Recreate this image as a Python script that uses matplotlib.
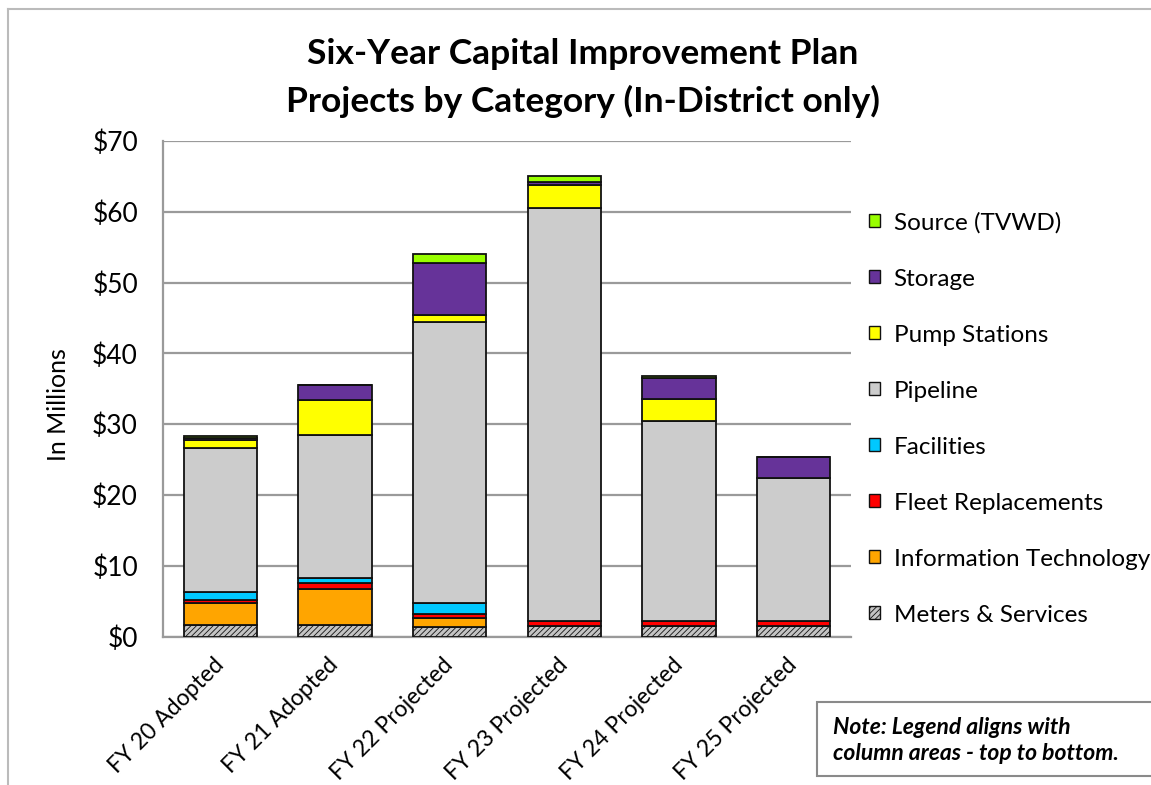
import matplotlib
matplotlib.use("Agg")
import matplotlib.pyplot as plt
from matplotlib.patches import Rectangle, Patch
from matplotlib.lines import Line2D

plt.rcParams['font.family'] = ['Lato', 'DejaVu Sans']
plt.rcParams['hatch.color'] = '#555555'
plt.rcParams['hatch.linewidth'] = 0.6

# ---- data (millions of dollars) ----
years = ["FY 20 Adopted", "FY 21 Adopted", "FY 22 Projected",
         "FY 23 Projected", "FY 24 Projected", "FY 25 Projected"]
meters = [1.6, 1.6, 1.4, 1.55, 1.55, 1.55]
info_tech = [3.1, 5.1, 1.2, 0.0, 0.0, 0.0]
fleet = [0.45, 0.8, 0.6, 0.7, 0.7, 0.7]
facilities = [1.1, 0.8, 1.55, 0.0, 0.0, 0.0]
pipeline = [20.4, 20.1, 39.7, 58.3, 28.2, 20.1]
pump_stations = [1.05, 5.0, 1.0, 3.25, 3.05, 0.0]
storage = [0.3, 2.1, 7.35, 0.45, 2.95, 3.05]
source = [0.3, 0.0, 1.25, 0.75, 0.35, 0.0]

categories = ["Meters & Services", "Information Technology", "Fleet Replacements",
              "Facilities", "Pipeline", "Pump Stations", "Storage", "Source (TVWD)"]
series = [meters, info_tech, fleet, facilities, pipeline, pump_stations, storage, source]
colors = ["#c4c4c4", "#ffa500", "#ff0000", "#00c8ff", "#cccccc",
          "#ffff00", "#663399", "#99ff00"]
hatches = ["//////", None, None, None, None, None, None, None]

W, H = 1151, 785
fig = plt.figure(figsize=(W / 100, H / 100), dpi=100)

# plot area in pixel terms
x0, x1 = 163, 851
y_top, y_bot = 141, 636.5
ax = fig.add_axes([x0 / W, (H - y_bot) / H, (x1 - x0) / W, (y_bot - y_top) / H])

pos = list(range(len(years)))
bottom = [0.0] * len(years)
handles = []
for vals, col, hat, name in zip(series, colors, hatches, categories):
    ax.bar(pos, vals, width=0.64, bottom=bottom, color=col, edgecolor="#111111",
           linewidth=1.3, hatch=hat, zorder=3)
    bottom = [b + v for b, v in zip(bottom, vals)]
    handles.append(Patch(facecolor=col, edgecolor="#111111", linewidth=1.0,
                         hatch=hat, label=name))

ax.set_xlim(-0.5, 5.5)
ax.set_ylim(0, 70)
ax.set_yticks(range(0, 71, 10))
ax.set_yticklabels([f"${v}" for v in range(0, 71, 10)], fontsize=19)
ax.yaxis.grid(True, color="#9a9a9a", linewidth=1.6, zorder=0)
ax.set_axisbelow(True)
for s in ["top", "right"]:
    ax.spines[s].set_visible(False)
for s in ["left", "bottom"]:
    ax.spines[s].set_color("#9a9a9a")
    ax.spines[s].set_linewidth(1.6)
ax.tick_params(axis="y", length=0, pad=18)
ax.tick_params(axis="x", length=0, pad=18)
ax.set_xticks(pos)
ax.set_xticklabels(years, rotation=45, ha="right", va="center",
                   rotation_mode="anchor", fontsize=16.5)

fig.text(58 / W, 1 - 405 / H, "In Millions", rotation=90, fontsize=18,
         ha="center", va="center")

fig.text(583 / W, 1 - 54 / H, "Six-Year Capital Improvement Plan",
         fontsize=25.5, fontweight="bold", ha="center", va="center")
fig.text(583 / W, 1 - 101 / H, "Projects by Category (In-District only)",
         fontsize=25.5, fontweight="bold", ha="center", va="center")

leg = fig.legend(handles=handles[::-1], loc="upper left",
                 bbox_to_anchor=(869 / W, 1 - 212 / H), frameon=False,
                 fontsize=17.5, handlelength=0.46, handleheight=0.46,
                 handletextpad=0.55, labelspacing=1.44, borderpad=0,
                 borderaxespad=0)

# note box
fig.add_artist(Rectangle((817 / W, 1 - 776 / H), 400 / W, 74 / H,
                         transform=fig.transFigure, facecolor="white",
                         edgecolor="#8a8a8a", linewidth=1.5))
fig.text(833 / W, 1 - 727 / H, "Note: Legend aligns with", fontsize=16.5,
         fontweight="bold", fontstyle="italic", ha="left", va="center")
fig.text(833 / W, 1 - 754 / H, "column areas - top to bottom.", fontsize=16.5,
         fontweight="bold", fontstyle="italic", ha="left", va="center")

# outer frame
fig.add_artist(Line2D([8 / W, 8 / W], [0, 1 - 9 / H], transform=fig.transFigure,
                      color="#bbbbbb", linewidth=1.5))
fig.add_artist(Line2D([8 / W, 1], [1 - 9 / H, 1 - 9 / H], transform=fig.transFigure,
                      color="#bbbbbb", linewidth=1.5))

fig.savefig("out.png", dpi=100, facecolor="white")
